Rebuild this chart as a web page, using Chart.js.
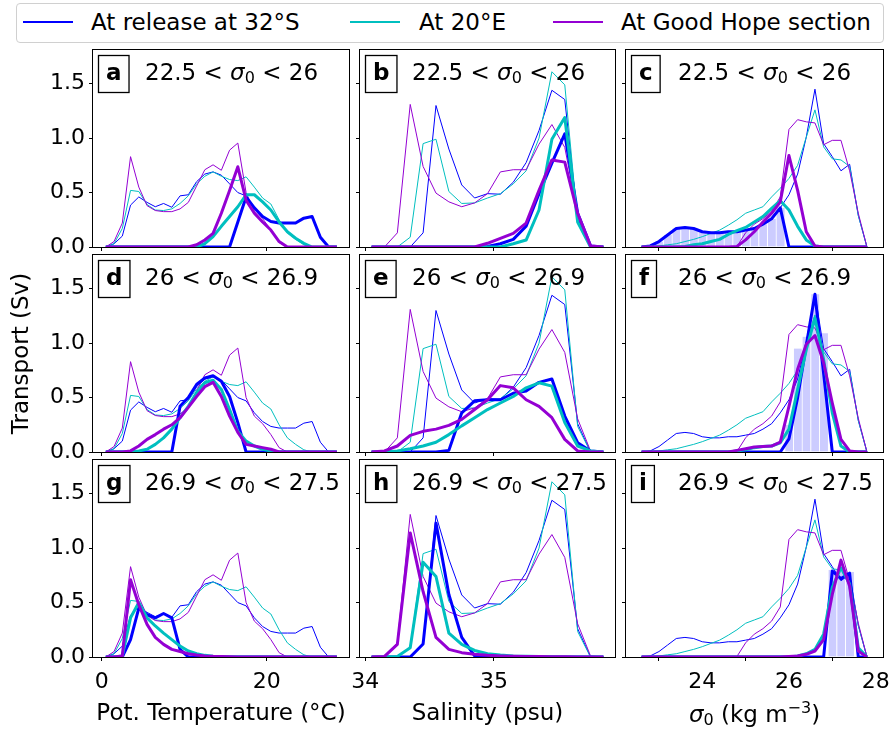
<!DOCTYPE html>
<html>
<head>
<meta charset="utf-8">
<script src="https://cdn.jsdelivr.net/npm/chart.js@4.4.0/dist/chart.umd.min.js"></script>
<style>
  body { margin: 0; background: #fff; width: 892px; height: 733px; position: relative; overflow: hidden; font-family: 'DejaVu Sans', sans-serif; }
  canvas { position: absolute; }
  #legend { position: absolute; left: 16px; top: 3px; width: 868px; height: 40px; box-sizing: border-box; border: 1px solid #d0d0d0; border-radius: 4px; }
  .sw { position: absolute; top: 21px; height: 2px; width: 50px; }
  .lt { position: absolute; top: 11px; font-size: 23px; line-height: 23px; white-space: nowrap; color: #000; }
</style>
</head>
<body>
<div id="legend"></div>
<div class="sw" style="left:23px;background:#0000ff"></div><span class="lt" style="left:91px">At release at 32°S</span>
<div class="sw" style="left:350px;background:#00bfbf"></div><span class="lt" style="left:419px">At 20°E</span>
<div class="sw" style="left:553px;background:#9400d3"></div><span class="lt" style="left:621px">At Good Hope section</span>
<script>
// bin centres
const tempBins = [0.5, 1.5, 2.5, 3.5, 4.5, 5.5, 6.5, 7.5, 8.5, 9.5, 10.5, 11.5, 12.5, 13.5, 14.5, 15.5, 16.5, 17.5, 18.5, 19.5, 20.5, 21.5, 22.5, 23.5, 24.5, 25.5, 26.5, 27.5, 28.5];
const salBins = [34.05, 34.15, 34.25, 34.35, 34.45, 34.55, 34.65, 34.75, 34.85, 34.95, 35.05, 35.15, 35.25, 35.35, 35.45, 35.55, 35.65, 35.75, 35.85];
const sigBins = [22.6, 22.8, 23.0, 23.2, 23.4, 23.6, 23.8, 24.0, 24.2, 24.4, 24.6, 24.8, 25.0, 25.2, 25.4, 25.6, 25.8, 26.0, 26.2, 26.4, 26.6, 26.8, 27.0, 27.2, 27.4, 27.6, 27.8];

// full distributions (thin lines), same in every row of a column
const thinBlueT = [0, 0.03, 0.10, 0.385, 0.46, 0.41, 0.37, 0.40, 0.365, 0.47, 0.48, 0.60, 0.67, 0.69, 0.66, 0.58, 0.50, 0.47, 0.36, 0.28, 0.235, 0.22, 0.22, 0.22, 0.265, 0.28, 0.09, 0, 0];
const thinCyanT = [0, 0.03, 0.17, 0.52, 0.51, 0.39, 0.34, 0.335, 0.35, 0.40, 0.47, 0.58, 0.65, 0.69, 0.65, 0.62, 0.61, 0.645, 0.55, 0.45, 0.395, 0.25, 0.13, 0.07, 0.02, 0, 0, 0, 0];
const thinPurpleT = [0, 0.05, 0.22, 0.83, 0.55, 0.38, 0.335, 0.325, 0.325, 0.35, 0.41, 0.56, 0.71, 0.755, 0.705, 0.89, 0.955, 0.50, 0.33, 0.26, 0.16, 0.04, 0, 0, 0, 0, 0, 0, 0];

const thinBlueS = [0, 0, 0, 0, 0.13, 1.30, 0.90, 0.57, 0.45, 0.49, 0.485, 0.595, 0.775, 1.07, 1.44, 1.355, 0.26, 0, 0];
const thinCyanS = [0, 0, 0, 0.09, 0.95, 0.99, 0.51, 0.40, 0.405, 0.45, 0.49, 0.58, 0.70, 1.00, 1.61, 1.49, 0.235, 0, 0];
const thinPurpleS = [0, 0, 0.13, 1.31, 0.74, 0.495, 0.415, 0.37, 0.405, 0.49, 0.69, 0.71, 0.71, 0.945, 1.125, 0.915, 0.305, 0.01, 0];

const thinBlueD = [0, 0.01, 0.05, 0.11, 0.17, 0.18, 0.17, 0.14, 0.13, 0.13, 0.14, 0.14, 0.155, 0.17, 0.21, 0.26, 0.36, 0.48, 0.67, 1.01, 1.45, 0.95, 0.83, 0.70, 0.76, 0.29, 0];
const thinCyanD = [0, 0.003, 0.01, 0.02, 0.03, 0.05, 0.07, 0.095, 0.125, 0.155, 0.20, 0.25, 0.31, 0.34, 0.37, 0.46, 0.54, 0.63, 0.75, 1.01, 1.26, 0.92, 0.81, 0.80, 0.74, 0.29, 0];
const thinPurpleD = [0, 0, 0, 0, 0, 0, 0, 0, 0, 0, 0, 0.005, 0.13, 0.21, 0.26, 0.33, 0.46, 1.08, 1.17, 1.15, 1.14, 0.94, 0.98, 0.98, 0.70, 0.31, 0];

// density-class subsets (thick lines)
const aBlue = [0, 0, 0, 0, 0, 0, 0, 0, 0, 0, 0, 0, 0, 0, 0, 0, 0.23, 0.46, 0.36, 0.28, 0.235, 0.22, 0.22, 0.22, 0.265, 0.28, 0.09, 0, 0];
const aCyan = [0, 0, 0, 0, 0, 0, 0, 0, 0, 0, 0, 0, 0.03, 0.095, 0.19, 0.28, 0.37, 0.48, 0.48, 0.415, 0.34, 0.23, 0.14, 0.08, 0.034, 0, 0, 0, 0];
const aPurple = [0, 0, 0, 0, 0, 0, 0, 0, 0, 0, 0, 0.02, 0.064, 0.125, 0.31, 0.52, 0.737, 0.43, 0.31, 0.23, 0.156, 0.05, 0, 0, 0, 0, 0, 0, 0];
const dBlue = [0, 0, 0, 0, 0, 0, 0, 0, 0, 0.42, 0.50, 0.62, 0.68, 0.70, 0.65, 0.51, 0.27, 0, 0, 0, 0, 0, 0, 0, 0, 0, 0, 0, 0];
const dCyan = [0, 0, 0, 0, 0.01, 0.025, 0.07, 0.13, 0.21, 0.315, 0.42, 0.545, 0.636, 0.66, 0.575, 0.39, 0.19, 0.10, 0.055, 0.025, 0.01, 0, 0, 0, 0, 0, 0, 0, 0];
const dPurple = [0, 0, 0, 0.01, 0.055, 0.116, 0.16, 0.21, 0.25, 0.315, 0.41, 0.51, 0.60, 0.64, 0.51, 0.33, 0.18, 0.07, 0.055, 0.04, 0.025, 0, 0, 0, 0, 0, 0, 0, 0];
const gBlue = [0, 0, 0, 0.16, 0.45, 0.39, 0.36, 0.40, 0.36, 0.07, 0, 0, 0, 0, 0, 0, 0, 0, 0, 0, 0, 0, 0, 0, 0, 0, 0, 0, 0];
const gCyan = [0, 0, 0.01, 0.36, 0.50, 0.36, 0.285, 0.22, 0.16, 0.10, 0.055, 0.03, 0.015, 0.008, 0.004, 0, 0, 0, 0, 0, 0, 0, 0, 0, 0, 0, 0, 0, 0];
const gPurple = [0, 0, 0.01, 0.71, 0.48, 0.30, 0.18, 0.116, 0.07, 0.05, 0.03, 0.018, 0.01, 0.006, 0.004, 0.002, 0, 0, 0, 0, 0, 0, 0, 0, 0, 0, 0, 0, 0];

const bBlue = [0, 0, 0, 0, 0, 0, 0, 0, 0, 0.005, 0.03, 0.07, 0.19, 0.49, 0.77, 1.04, 0.31, 0.01, 0];
const bCyan = [0, 0, 0, 0, 0, 0, 0, 0, 0, 0, 0, 0.03, 0.064, 0.34, 0.99, 1.19, 0.23, 0, 0];
const bPurple = [0, 0, 0, 0, 0, 0, 0, 0, 0, 0.034, 0.08, 0.125, 0.22, 0.52, 0.80, 0.78, 0.31, 0.01, 0];
const eBlue = [0, 0, 0, 0, 0, 0, 0.015, 0.36, 0.47, 0.48, 0.48, 0.54, 0.56, 0.64, 0.67, 0.33, 0.085, 0.01, 0];
const eCyan = [0, 0, 0.01, 0.03, 0.055, 0.09, 0.16, 0.24, 0.315, 0.39, 0.45, 0.51, 0.59, 0.636, 0.605, 0.27, 0.055, 0.01, 0];
const ePurple = [0, 0.01, 0.055, 0.153, 0.19, 0.21, 0.245, 0.30, 0.39, 0.48, 0.61, 0.59, 0.48, 0.42, 0.315, 0.116, 0.01, 0, 0];
const hBlue = [0, 0, 0, 0, 0.12, 1.23, 0.575, 0.18, 0.01, 0, 0, 0, 0, 0, 0, 0, 0, 0, 0];
const hCyan = [0, 0, 0.005, 0.085, 0.87, 0.74, 0.22, 0.116, 0.06, 0.03, 0.018, 0.01, 0.006, 0.004, 0.002, 0.001, 0, 0, 0];
const hPurple = [0, 0.005, 0.116, 1.14, 0.60, 0.18, 0.07, 0.04, 0.025, 0.015, 0.01, 0.007, 0.005, 0.004, 0.003, 0.002, 0.001, 0, 0];

const cBlue = [0, 0.01, 0.05, 0.11, 0.17, 0.18, 0.17, 0.14, 0.13, 0.13, 0.14, 0.14, 0.155, 0.17, 0.21, 0.26, 0.36, 0, 0, 0, 0, 0, 0, 0, 0, 0, 0];
const cCyan = [0, 0, 0, 0, 0, 0.005, 0.02, 0.03, 0.05, 0.07, 0.115, 0.15, 0.18, 0.23, 0.28, 0.355, 0.425, 0.34, 0.19, 0.065, 0.01, 0, 0, 0, 0, 0, 0];
const cPurple = [0, 0, 0, 0, 0, 0, 0, 0, 0, 0, 0, 0.005, 0.065, 0.14, 0.23, 0.31, 0.415, 0.84, 0.52, 0.14, 0.01, 0, 0, 0, 0, 0, 0];
const cBars = [0, 0, 0.05, 0.11, 0.17, 0.18, 0.17, 0.14, 0.13, 0.13, 0.14, 0.14, 0.155, 0.17, 0.21, 0.26, 0.36, 0, 0, 0, 0, 0, 0, 0, 0, 0, 0];
const fBlue = [0, 0, 0, 0, 0, 0, 0, 0, 0, 0, 0, 0, 0, 0, 0, 0, 0, 0.12, 0.5, 0.98, 1.45, 0.72, 0, 0, 0, 0, 0];
const fCyan = [0, 0, 0, 0, 0, 0, 0, 0, 0, 0, 0, 0.01, 0.02, 0.04, 0.05, 0.055, 0.085, 0.21, 0.575, 0.94, 1.23, 0.85, 0.36, 0.055, 0, 0, 0];
const fPurple = [0, 0, 0, 0, 0, 0, 0, 0, 0, 0, 0, 0.015, 0.03, 0.046, 0.05, 0.055, 0.09, 0.42, 0.76, 0.99, 1.07, 0.82, 0.45, 0.116, 0.01, 0, 0];
const fBars = [0, 0, 0, 0, 0, 0, 0, 0, 0, 0, 0, 0, 0, 0, 0, 0, 0, 0.25, 0.95, 1.06, 1.45, 1.09, 0, 0, 0, 0, 0];
const iBlue = [0, 0, 0, 0, 0, 0, 0, 0, 0, 0, 0, 0, 0, 0, 0, 0, 0, 0, 0, 0, 0, 0, 0.79, 0.72, 0.77, 0, 0];
const iCyan = [0, 0, 0, 0, 0, 0, 0, 0, 0, 0, 0, 0, 0, 0, 0, 0, 0, 0, 0.01, 0.03, 0.07, 0.21, 0.64, 0.82, 0.67, 0.085, 0];
const iPurple = [0, 0, 0, 0, 0, 0, 0, 0, 0, 0, 0, 0, 0, 0, 0, 0, 0, 0.005, 0.01, 0.025, 0.055, 0.16, 0.575, 0.89, 0.65, 0.055, 0];
const iBars = [0, 0, 0, 0, 0, 0, 0, 0, 0, 0, 0, 0, 0, 0, 0, 0, 0, 0, 0, 0, 0, 0, 0.8, 0.78, 0.78, 0, 0];

const yTicks = [0, 0.5, 1.0, 1.5];
const classRanges = [['22.5', '26'], ['26', '26.9'], ['26.9', '27.5']];

const BLUE = '#0000ff', CYAN = '#00bfbf', PURPLE = '#9400d3', BAR = 'rgba(0,0,255,0.2)';

Chart.defaults.font.family = "'DejaVu Sans', sans-serif";
Chart.defaults.font.size = 22;
Chart.defaults.color = '#000';

const cols = [
  { left: 93, width: 256, min: -1.05, max: 29.97, ticks: [0, 20], xs: tempBins, thin: [thinBlueT, thinCyanT, thinPurpleT], xlabel: 'Pot. Temperature (°C)' },
  { left: 360, width: 255, min: 33.96, max: 35.94, ticks: [34, 35], xs: salBins, thin: [thinBlueS, thinCyanS, thinPurpleS], xlabel: 'Salinity (psu)' },
  { left: 626, width: 257, min: 22.24, max: 28.17, ticks: [24, 26, 28], xs: sigBins, thin: [thinBlueD, thinCyanD, thinPurpleD], xlabel: null }
];
const rowTops = [50, 255, 460];
const PLOT_H = 197;

const panels = [
  { letter: 'a', col: 0, row: 0, thick: [aBlue, aCyan, aPurple] },
  { letter: 'b', col: 1, row: 0, thick: [bBlue, bCyan, bPurple] },
  { letter: 'c', col: 2, row: 0, thick: [cBlue, cCyan, cPurple], bars: cBars },
  { letter: 'd', col: 0, row: 1, thick: [dBlue, dCyan, dPurple] },
  { letter: 'e', col: 1, row: 1, thick: [eBlue, eCyan, ePurple] },
  { letter: 'f', col: 2, row: 1, thick: [fBlue, fCyan, fPurple], bars: fBars },
  { letter: 'g', col: 0, row: 2, thick: [gBlue, gCyan, gPurple] },
  { letter: 'h', col: 1, row: 2, thick: [hBlue, hCyan, hPurple] },
  { letter: 'i', col: 2, row: 2, thick: [iBlue, iCyan, iPurple], bars: iBars }
];

function fnt(size, style) {
  return (style ? style + ' ' : '') + size + 'px "DejaVu Sans"';
}

// draw a run of text pieces (for sub/superscripts and italic sigma)
function drawRich(ctx, parts, x, y, align) {
  let total = 0;
  parts.forEach(p => { ctx.font = p.font; p.w = ctx.measureText(p.t).width; total += p.w; });
  let cx = align === 'center' ? x - total / 2 : x;
  ctx.textAlign = 'left';
  ctx.textBaseline = 'alphabetic';
  ctx.fillStyle = '#000';
  parts.forEach(p => { ctx.font = p.font; ctx.fillText(p.t, cx, y + (p.dy || 0)); cx += p.w; });
}

function lineSet(xs, ys, color, width, order) {
  return {
    type: 'line',
    data: xs.map((x, i) => ({ x: x, y: ys[i] })),
    borderColor: color,
    borderWidth: width,
    borderJoinStyle: 'round',
    pointRadius: 0,
    tension: 0,
    fill: false,
    order: order
  };
}

function makePanel(p) {
  const col = cols[p.col];
  const top = rowTops[p.row];
  const bottomRow = p.row === 2;
  const leftCol = p.col === 0;
  const hasYTitle = leftCol && p.row === 1;
  const yW = hasYTitle ? 93 : (leftCol ? 50 : 4);
  const xH = bottomRow ? 71 : 4;
  const PAD = 20;
  const padL = hasYTitle ? 0 : PAD;
  const cw = padL + yW + col.width + PAD;
  const ch = PAD + PLOT_H + xH + PAD;

  const cv = document.createElement('canvas');
  cv.width = cw; cv.height = ch;
  cv.style.width = cw + 'px'; cv.style.height = ch + 'px';
  cv.style.left = (col.left - yW - padL) + 'px';
  cv.style.top = (top - PAD) + 'px';
  document.body.appendChild(cv);

  const datasets = [];
  if (p.bars) {
    datasets.push({
      type: 'bar',
      data: col.xs.map((x, i) => ({ x: x, y: p.bars[i] })).filter(d => d.y > 0),
      backgroundColor: BAR,
      borderColor: '#fff',
      borderWidth: { left: 1, right: 0, top: 0, bottom: 0 },
      barPercentage: 1,
      categoryPercentage: 1,
      order: 10
    });
  }
  datasets.push(lineSet(col.xs, col.thin[0], BLUE, 1, 9));
  datasets.push(lineSet(col.xs, col.thin[1], CYAN, 1, 8));
  datasets.push(lineSet(col.xs, col.thin[2], PURPLE, 1, 7));
  datasets.push(lineSet(col.xs, p.thick[0], BLUE, 3, 6));
  datasets.push(lineSet(col.xs, p.thick[1], CYAN, 3, 5));
  datasets.push(lineSet(col.xs, p.thick[2], PURPLE, 3, 4));

  const range = classRanges[p.row];

  new Chart(cv, {
    type: 'line',
    data: { datasets: datasets },
    options: {
      responsive: false,
      animation: false,
      devicePixelRatio: 1,
      events: [],
      layout: { padding: { left: padL, top: PAD, right: PAD, bottom: PAD } },
      plugins: { legend: { display: false }, tooltip: { enabled: false } },
      scales: {
        x: {
          type: 'linear', min: col.min, max: col.max, offset: false,
          afterBuildTicks: s => { s.ticks = col.ticks.map(v => ({ value: v })); },
          afterFit: s => { s.height = xH; },
          grid: { drawOnChartArea: false, drawTicks: true, tickLength: 4, color: '#000', lineWidth: 1 },
          border: { display: false },
          ticks: { display: bottomRow, padding: 8, maxRotation: 0, autoSkip: false, callback: v => String(v) },
          title: { display: bottomRow && col.xlabel !== null, text: col.xlabel || '', font: { size: 23 }, padding: 0 }
        },
        y: {
          min: 0, max: 1.81,
          afterBuildTicks: s => { s.ticks = yTicks.map(v => ({ value: v })); },
          afterFit: s => { s.width = yW; },
          grid: { drawOnChartArea: false, drawTicks: true, tickLength: 4, color: '#000', lineWidth: 1 },
          border: { display: false },
          ticks: { display: leftCol, padding: 4, callback: v => v.toFixed(1) },
          title: { display: hasYTitle, text: 'Transport (Sv)', font: { size: 23 }, padding: { top: 8, bottom: 0 } }
        }
      }
    },
    plugins: [{
      id: 'frameAndLabels',
      afterDatasetsDraw(chart) {
        const { ctx, chartArea: a } = chart;
        ctx.save();
        ctx.strokeStyle = '#000';
        ctx.lineWidth = 1;
        ctx.strokeRect(Math.round(a.left) - 0.5, Math.round(a.top) - 0.5,
          Math.round(a.right - a.left) + 1, Math.round(a.bottom - a.top) + 1);

        // boxed panel letter
        ctx.font = fnt(23, 'bold');
        const lw = ctx.measureText(p.letter).width;
        const bx = a.left + 5.5, by = a.top + 5.5, bw = lw + 15, bh = 37;
        ctx.fillStyle = '#fff';
        ctx.fillRect(bx, by, bw, bh);
        ctx.lineWidth = 1.3;
        ctx.strokeRect(bx, by, bw, bh);
        ctx.fillStyle = '#000';
        ctx.textAlign = 'center';
        ctx.textBaseline = 'alphabetic';
        ctx.fillText(p.letter, bx + bw / 2, a.top + 30);

        // density class
        drawRich(ctx, [
          { t: range[0] + ' < ', font: fnt(23) },
          { t: 'σ', font: fnt(23, 'italic') },
          { t: '0', font: fnt(16), dy: 3 },
          { t: ' < ' + range[1], font: fnt(23) }
        ], a.left + 52, a.top + 30, 'left');

        if (bottomRow && p.col === 2) {
          drawRich(ctx, [
            { t: 'σ', font: fnt(23, 'italic') },
            { t: '0', font: fnt(16), dy: 3 },
            { t: ' (kg m', font: fnt(23) },
            { t: '−3', font: fnt(16), dy: -9 },
            { t: ')', font: fnt(23) }
          ], (a.left + a.right) / 2, a.bottom + 65, 'center');
        }
        ctx.restore();
      }
    }]
  });
}

panels.forEach(makePanel);
</script>
</body>
</html>
